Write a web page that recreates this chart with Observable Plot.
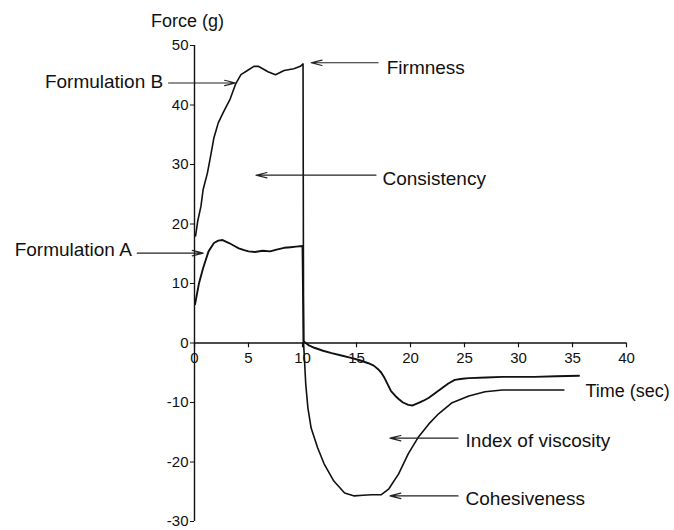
<!DOCTYPE html>
<html>
<head>
<meta charset="utf-8">
<script src="https://cdn.jsdelivr.net/npm/d3@7"></script>
<script src="https://cdn.jsdelivr.net/npm/@observablehq/plot@0.6"></script>
<style>
  html, body { margin: 0; padding: 0; background: #fff; }
  #chart { width: 674px; height: 530px; }
</style>
</head>
<body>
<div id="chart"></div>
<script>
// Formulation A trace (time in sec, force in g)
const timeA  = [0.05, 0.4, 0.8, 1.3, 1.8, 2.2, 2.6, 3.2, 3.7, 4.1, 4.6, 5.0, 5.6, 6.3, 7.0, 7.6, 8.3, 8.9, 9.4, 10.0,
                10.1, 10.6, 11.1, 11.9, 12.7, 13.6, 14.5, 15.3, 16.1, 16.6, 17.0, 17.3, 17.6, 17.9, 18.2, 18.6, 18.9, 19.3, 19.8, 20.2, 20.7, 21.2, 21.7, 22.3, 22.9, 23.5, 24.1, 24.8, 25.4, 27.0, 28.5, 30.0, 31.5, 33.5, 35.6];
const forceA = [6.5, 9.9, 12.6, 15.4, 16.8, 17.2, 17.3, 16.8, 16.3, 15.9, 15.6, 15.4, 15.3, 15.5, 15.4, 15.7, 16.0, 16.1, 16.2, 16.3,
                0.3, -0.4, -0.8, -1.3, -1.7, -2.1, -2.5, -2.9, -3.4, -3.8, -4.4, -5.0, -5.9, -7.0, -8.1, -8.9, -9.4, -10.0, -10.4, -10.5, -10.1, -9.7, -9.2, -8.4, -7.6, -6.8, -6.2, -6.0, -5.9, -5.8, -5.7, -5.7, -5.7, -5.6, -5.5];

// Formulation B trace
const timeB  = [0.1, 0.3, 0.6, 0.8, 1.2, 1.5, 1.8, 2.2, 2.7, 3.3, 3.8, 4.3, 4.9, 5.5, 5.9, 6.4, 6.8, 7.5, 8.3, 9.2, 9.8, 10.05,
                10.1, 10.3, 10.5, 10.8, 11.4, 12.0, 12.9, 13.9, 14.8, 15.6, 16.4, 17.3, 18.0, 18.9, 19.8, 20.7, 21.7, 22.6, 23.8, 25.4, 26.9, 28.5, 30.0, 31.5, 34.2];
const forceB = [18.0, 20.5, 23.0, 25.8, 28.6, 31.5, 34.5, 37.0, 38.9, 41.0, 43.5, 45.1, 45.8, 46.5, 46.5, 46.0, 45.6, 45.1, 45.8, 46.1, 46.5, 46.9,
                0.0, -6.9, -10.9, -14.3, -17.6, -20.3, -23.2, -25.2, -25.7, -25.6, -25.5, -25.5, -24.5, -22.0, -18.6, -15.9, -13.6, -11.9, -10.1, -8.9, -8.2, -7.9, -7.9, -7.9, -7.9];

// Axis ticks
const xTicks = [0, 5, 10, 15, 20, 25, 30, 35, 40];
const yTicks = [-30, -20, -10, 0, 10, 20, 30, 40, 50];

// Annotations: label text, arrow tail, arrow tip (data units)
const annLabels = ["Formulation B", "Firmness", "Consistency", "Formulation A", "Index of viscosity", "Cohesiveness"];
const annTailX  = [-2.4, 17.0, 16.8, -5.3, 24.4, 24.4];
const annTipX   = [3.8, 10.8, 5.7, 0.8, 18.1, 18.1];
const annArrowY = [43.7, 47.1, 28.2, 15.1, -16.0, -25.7];
const annTextX  = [-2.9, 17.8, 17.4, -5.8, 25.1, 25.1];
const annTextY  = [43.8, 46.2, 27.6, 15.6, -16.5, -26.2];
const annSide   = ["left", "right", "right", "left", "right", "right"];

const yTitle = ["Force (g)"];
const xTitle = ["Time (sec)"];

const seriesA = timeA.map((t, i) => ({t, f: forceA[i]}));
const seriesB = timeB.map((t, i) => ({t, f: forceB[i]}));
const ann = annLabels.map((label, i) => ({
  label, x1: annTailX[i], x2: annTipX[i], y: annArrowY[i],
  tx: annTextX[i], ty: annTextY[i], side: annSide[i]
}));
const annLeft = ann.filter(d => d.side === "left");
const annRight = ann.filter(d => d.side === "right");

const chart = Plot.plot({
  width: 674,
  height: 530,
  marginLeft: 194,
  marginRight: 48,
  marginTop: 45,
  marginBottom: 9,
  style: {fontFamily: "'Liberation Sans', Arial, Helvetica, sans-serif", fontSize: "15px", color: "#111", background: "#fff", overflow: "visible"},
  x: {domain: [0, 40], axis: null},
  y: {domain: [-30, 50], ticks: yTicks, tickSize: 4, tickPadding: 2, label: null, tickFormat: d => String(d)},
  marks: [
    Plot.ruleX([0], {stroke: "#111", strokeWidth: 1.4}),
    Plot.ruleY([0], {stroke: "#111", strokeWidth: 1.4}),
    Plot.ruleX(xTicks, {x: d => d, y1: 0, y2: -0.8, stroke: "#111", strokeWidth: 1.2}),
    Plot.text(xTicks, {x: d => d, y: 0, dy: 15, text: d => String(d), fontSize: 15, fill: "#111"}),
    Plot.line(seriesA, {x: "t", y: "f", stroke: "#111", strokeWidth: 1.9, strokeLinejoin: "round"}),
    Plot.line(seriesB, {x: "t", y: "f", stroke: "#111", strokeWidth: 1.6, strokeLinejoin: "round"}),
    Plot.arrow(ann, {x1: "x1", x2: "x2", y1: "y", y2: "y", stroke: "#222", strokeWidth: 1.2, headLength: 14, headAngle: 28}),
    Plot.text(annLeft, {x: "tx", y: "ty", text: "label", textAnchor: "end", fontSize: 19, fill: "#111"}),
    Plot.text(annRight, {x: "tx", y: "ty", text: "label", textAnchor: "start", fontSize: 19, fill: "#111"}),
    Plot.text(yTitle, {x: -0.65, y: 54.1, text: d => d, textAnchor: "middle", fontSize: 18, fill: "#111"}),
    Plot.text(xTitle, {x: 36.2, y: -8.1, text: d => d, textAnchor: "start", fontSize: 18, fill: "#111"})
  ]
});

document.getElementById("chart").appendChild(chart);
</script>
</body>
</html>
